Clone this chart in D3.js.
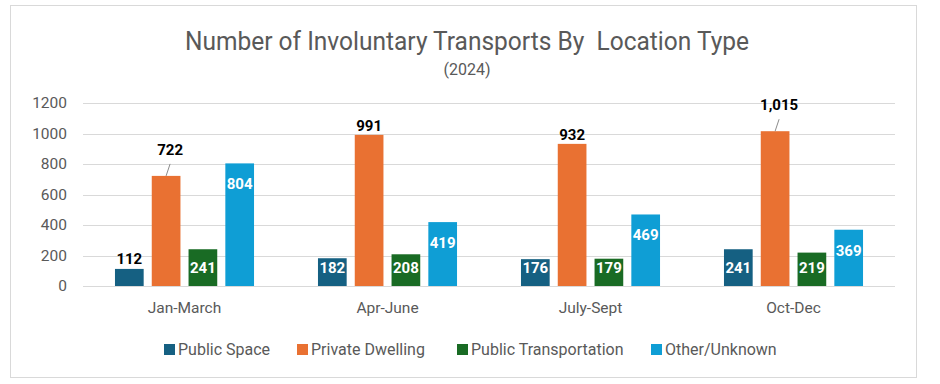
<!DOCTYPE html>
<html>
<head>
<meta charset="utf-8">
<script src="https://cdn.jsdelivr.net/npm/d3@7"></script>
<style>
  body { margin: 0; background: #fff; }
  text { font-family: Roboto, "Liberation Sans", sans-serif; }
</style>
</head>
<body>
<svg id="chart" width="940" height="384"></svg>
<script>
// data
const quarters = ["Jan-March", "Apr-June", "July-Sept", "Oct-Dec"];
const locationTypes = ["Public Space", "Private Dwelling", "Public Transportation", "Other/Unknown"];
const publicSpace = [112, 182, 176, 241];
const privateDwelling = [722, 991, 932, 1015];
const publicTransportation = [241, 208, 179, 219];
const otherUnknown = [804, 419, 469, 369];
const yTicks = [0, 200, 400, 600, 800, 1000, 1200];

const colors = ["#156082", "#E97132", "#196B24", "#0F9ED5"];
const series = [publicSpace, privateDwelling, publicTransportation, otherUnknown];

const svg = d3.select("#chart");
const width = 940, height = 384;
const margin = { top: 103, right: 45, bottom: 98, left: 83 };

// outer frame
svg.append("rect")
  .attr("x", 10.5).attr("y", 5.5)
  .attr("width", 906).attr("height", 372)
  .attr("fill", "#fff")
  .attr("stroke", "#d9d9d9");

// title (keeps the double space of the original)
svg.append("text")
  .attr("x", 467).attr("y", 50)
  .attr("text-anchor", "middle")
  .attr("font-size", 25)
  .attr("fill", "#595959")
  .style("white-space", "pre")
  .attr("textLength", 564)
  .attr("lengthAdjust", "spacingAndGlyphs")
  .text("Number of Involuntary Transports By  Location Type");

svg.append("text")
  .attr("x", 467).attr("y", 75)
  .attr("text-anchor", "middle")
  .attr("font-size", 16)
  .attr("fill", "#595959")
  .text("(2024)");

const x0 = d3.scaleBand()
  .domain(quarters)
  .range([margin.left, width - margin.right])
  .paddingInner(0.315)
  .paddingOuter(0.1575);

const x1 = d3.scaleBand()
  .domain(d3.range(locationTypes.length))
  .range([0, x0.bandwidth()])
  .paddingInner(0.22);

const y = d3.scaleLinear()
  .domain([0, 1200])
  .range([height - margin.bottom, margin.top]);

// gridlines
svg.append("g")
  .selectAll("line")
  .data(yTicks)
  .join("line")
  .attr("x1", margin.left).attr("x2", width - margin.right)
  .attr("y1", d => Math.round(y(d)) + 0.5).attr("y2", d => Math.round(y(d)) + 0.5)
  .attr("stroke", "#d9d9d9");

// y axis labels
const yAxis = svg.append("g")
  .attr("transform", `translate(${margin.left - 16},0)`)
  .call(d3.axisLeft(y).tickValues(yTicks).tickFormat(d3.format("d")).tickSize(0).tickPadding(0));
yAxis.select(".domain").remove();
yAxis.selectAll("text")
  .attr("font-size", 15.5)
  .attr("fill", "#595959")
  .style("font-family", "Roboto, sans-serif");

// x axis labels
const xAxis = svg.append("g")
  .attr("transform", `translate(0,${height - margin.bottom + 16})`)
  .call(d3.axisBottom(x0).tickSize(0).tickPadding(0));
xAxis.select(".domain").remove();
xAxis.selectAll("text")
  .attr("font-size", 15.5)
  .attr("fill", "#595959")
  .style("font-family", "Roboto, sans-serif");

// bars
const rows = [];
quarters.forEach((q, i) => {
  series.forEach((s, k) => rows.push({ q, k, value: s[i] }));
});

svg.append("g")
  .selectAll("rect")
  .data(rows)
  .join("rect")
  .attr("x", d => x0(d.q) + x1(d.k))
  .attr("y", d => y(d.value))
  .attr("width", x1.bandwidth())
  .attr("height", d => y(0) - y(d.value))
  .attr("fill", d => colors[d.k]);

// data labels
const fmt = d3.format(",");
const base = y(0);
const labels = svg.append("g")
  .attr("font-size", 15)
  .attr("font-weight", "bold")
  .attr("text-anchor", "middle");

rows.forEach(d => {
  const cx = x0(d.q) + x1(d.k) + x1.bandwidth() / 2;
  const top = y(d.value);
  const idx = quarters.indexOf(d.q);
  if (d.k === 1) {
    // orange bars: label above, two of them pushed up with a leader line
    const callout = idx === 0 || idx === 3;
    if (callout) {
      labels.append("line")
        .attr("x1", cx).attr("y1", top)
        .attr("x2", cx + 4).attr("y2", top - 12)
        .attr("stroke", "#8c8c8c");
      labels.append("text")
        .attr("x", cx + 4).attr("y", top - 21)
        .attr("fill", "#000").text(fmt(d.value));
    } else {
      labels.append("text")
        .attr("x", cx).attr("y", top - 4)
        .attr("fill", "#000").text(fmt(d.value));
    }
  } else if (d.value < 150) {
    labels.append("text")
      .attr("x", cx).attr("y", top - 5)
      .attr("fill", "#000").text(fmt(d.value));
  } else {
    const yy = Math.min(top + 26, base - 13);
    labels.append("text")
      .attr("x", cx).attr("y", yy)
      .attr("fill", "#fff").text(fmt(d.value));
  }
});

// legend
const legendX = [164, 297, 457, 651];
const legend = svg.append("g")
  .selectAll("g")
  .data(locationTypes)
  .join("g")
  .attr("transform", (d, i) => `translate(${legendX[i]},349)`);
legend.append("rect")
  .attr("x", 0).attr("y", -5)
  .attr("width", 11).attr("height", 11)
  .attr("fill", (d, i) => colors[i]);
legend.append("text")
  .attr("x", 14).attr("y", 6)
  .attr("font-size", 16)
  .attr("fill", "#595959")
  .text(d => d);
</script>
</body>
</html>
